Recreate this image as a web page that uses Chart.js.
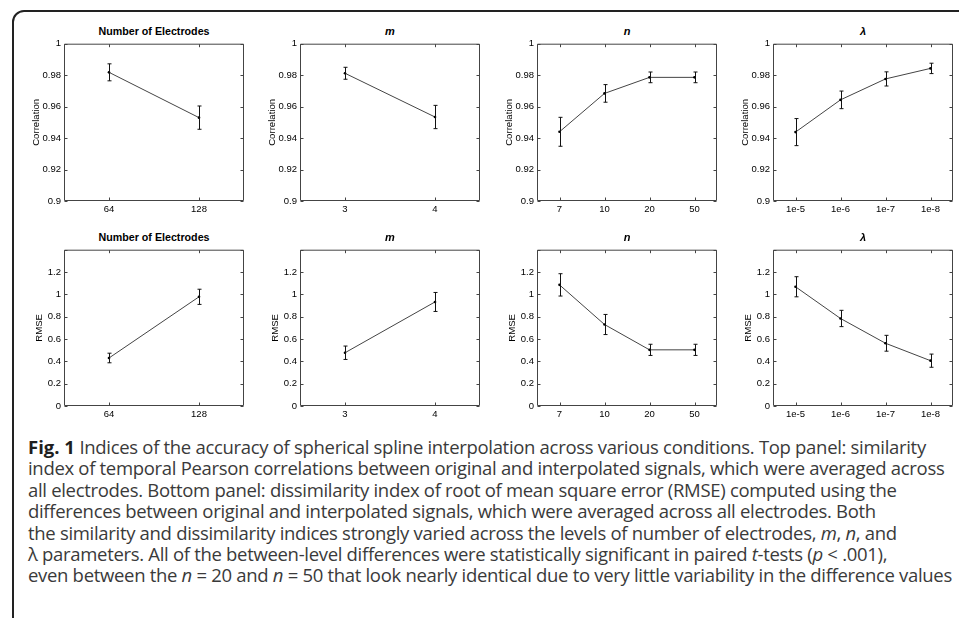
<!DOCTYPE html>
<html>
<head>
<meta charset="utf-8">
<script src="https://cdn.jsdelivr.net/npm/chart.js@4.4.1/dist/chart.umd.min.js"></script>
<style>
  html, body { margin: 0; padding: 0; background: #fff; }
  body { width: 959px; height: 618px; position: relative; overflow: hidden; }
  .frame {
    position: absolute; left: 12px; top: 10px; width: 1000px; height: 700px;
    border: 2px solid #222; border-radius: 12px; box-sizing: border-box;
  }
  canvas { position: absolute; }
  .ptitle {
    position: absolute; width: 180px; text-align: center; height: 14px; line-height: 14px;
    font-family: "Liberation Sans", Arial, sans-serif; font-weight: bold; font-size: 10.7px; color: #000;
  }
  .ptitle.it { font-style: italic; font-size: 11px; }
  .cap {
    position: absolute; left: 28px; height: 22px; line-height: 22px;
    font-family: "Open Sans", sans-serif; font-size: 18.5px;
    letter-spacing: -0.31px; color: #3a3a3a; white-space: nowrap;
  }
  .cap b { color: #1e1e1e; letter-spacing: 0; }
</style>
</head>
<body>
<div class="frame"></div>
<div id="panels"></div>
<div class="cap" style="top:436px"><b>Fig. 1</b> Indices of the accuracy of spherical spline interpolation across various conditions. Top panel: similarity</div>
<div class="cap" style="top:457.4px">index of temporal Pearson correlations between original and interpolated signals, which were averaged across</div>
<div class="cap" style="top:478.7px">all electrodes. Bottom panel: dissimilarity index of root of mean square error (RMSE) computed using the</div>
<div class="cap" style="top:500.1px">differences between original and interpolated signals, which were averaged across all electrodes. Both</div>
<div class="cap" style="top:521.5px">the similarity and dissimilarity indices strongly varied across the levels of number of electrodes, <i>m</i>, <i>n</i>, and</div>
<div class="cap" style="top:542.8px">λ parameters. All of the between-level differences were statistically significant in paired <i>t</i>-tests (<i>p</i> &lt; .001),</div>
<div class="cap" style="top:564.2px">even between the <i>n</i> = 20 and <i>n</i> = 50 that look nearly identical due to very little variability in the difference values</div>
<script>
// categories
const electrodeLevels = ['64', '128'];
const mLevels = ['3', '4'];
const nLevels = ['7', '10', '20', '50'];
const lambdaLevels = ['1e-5', '1e-6', '1e-7', '1e-8'];

// top row: correlation (mean, error bar half length)
const electrodesCorr = [0.9818, 0.9530];
const electrodesCorrErr = [0.0054, 0.0074];
const mCorr = [0.9812, 0.9534];
const mCorrErr = [0.0038, 0.0074];
const nCorr = [0.9440, 0.9684, 0.9786, 0.9786];
const nCorrErr = [0.0092, 0.0056, 0.0034, 0.0034];
const lambdaCorr = [0.9438, 0.9643, 0.9776, 0.9843];
const lambdaCorrErr = [0.0086, 0.0056, 0.0045, 0.0033];

// bottom row: RMSE
const electrodesRmse = [0.430, 0.978];
const electrodesRmseErr = [0.043, 0.068];
const mRmse = [0.477, 0.932];
const mRmseErr = [0.060, 0.085];
const nRmse = [1.085, 0.730, 0.503, 0.503];
const nRmseErr = [0.100, 0.090, 0.050, 0.050];
const lambdaRmse = [1.068, 0.784, 0.562, 0.406];
const lambdaRmseErr = [0.090, 0.073, 0.071, 0.059];

// tick labels
const corrTickValues = [0.9, 0.92, 0.94, 0.96, 0.98, 1];
const corrTickLabels = ['0.9', '0.92', '0.94', '0.96', '0.98', '1'];
const rmseTickValues = [0, 0.2, 0.4, 0.6, 0.8, 1, 1.2, 1.4];
const rmseTickLabels = ['0', '0.2', '0.4', '0.6', '0.8', '1', '1.2', ''];

const titles = ['Number of Electrodes', 'm', 'n', 'λ'];
const levels = [electrodeLevels, mLevels, nLevels, lambdaLevels];

// layout of the plot boxes
const plotLefts = [64, 300, 537, 773];
const plotW = 180;
const rows = [
    { top: 43, h: 158, label: 'Correlation', min: 0.9, max: 1, tv: corrTickValues, tl: corrTickLabels, titlePad: 18.5,
      vals: [electrodesCorr, mCorr, nCorr, lambdaCorr], errs: [electrodesCorrErr, mCorrErr, nCorrErr, lambdaCorrErr] },
    { top: 249, h: 157, label: 'RMSE', min: 0, max: 1.4, tv: rmseTickValues, tl: rmseTickLabels, titlePad: 22,
      vals: [electrodesRmse, mRmse, nRmse, lambdaRmse], errs: [electrodesRmseErr, mRmseErr, nRmseErr, lambdaRmseErr] }
];

const FONT = "'Liberation Sans', Arial, sans-serif";
const Y_W = 52, X_H = 22, PAD_T = 8, PAD_R = 6;

// matlab-ish box: error bars, full frame and inward ticks
const matlabAxes = {
    id: 'matlabAxes',
    afterDatasetsDraw(chart) {
        const { ctx, chartArea: a, scales: { x, y } } = chart;
        const ds = chart.data.datasets[0];
        const pts = chart.getDatasetMeta(0).data;
        ctx.save();
        ctx.lineWidth = 1;
        ctx.strokeStyle = '#111';
        ds.data.forEach((v, i) => {
            const px = Math.round(pts[i].x) + 0.5;
            const t = y.getPixelForValue(v + ds.errors[i]);
            const b = y.getPixelForValue(v - ds.errors[i]);
            ctx.beginPath();
            ctx.moveTo(px, t); ctx.lineTo(px, b);
            ctx.moveTo(px - 2, t); ctx.lineTo(px + 2, t);
            ctx.moveTo(px - 2, b); ctx.lineTo(px + 2, b);
            ctx.stroke();
        });
        ctx.strokeStyle = '#444';
        const L = a.left + 0.5, R = a.right - 0.5, T = a.top + 0.5, B = a.bottom - 0.5;
        ctx.beginPath();
        ctx.rect(L, T, R - L, B - T);
        x.ticks.forEach((t, i) => {
            const px = Math.round(x.getPixelForTick(i)) + 0.5;
            ctx.moveTo(px, B); ctx.lineTo(px, B - 3);
            ctx.moveTo(px, T); ctx.lineTo(px, T + 3);
        });
        y.ticks.forEach((t, i) => {
            const py = Math.round(y.getPixelForTick(i)) + 0.5;
            ctx.moveTo(L, py); ctx.lineTo(L + 3, py);
            ctx.moveTo(R, py); ctx.lineTo(R - 3, py);
        });
        ctx.stroke();
        ctx.restore();
    }
};

const holder = document.getElementById('panels');

rows.forEach((row) => {
    titles.forEach((title, c) => {
        const left = plotLefts[c];

        const tdiv = document.createElement('div');
        tdiv.className = 'ptitle' + (c > 0 ? ' it' : '');
        tdiv.textContent = title;
        tdiv.style.left = left + 'px';
        tdiv.style.top = (row.top - 12 - 7) + 'px';
        holder.appendChild(tdiv);

        const cv = document.createElement('canvas');
        cv.width = Y_W + plotW + PAD_R;
        cv.height = PAD_T + row.h + X_H;
        cv.style.left = (left - Y_W) + 'px';
        cv.style.top = (row.top - PAD_T) + 'px';
        holder.appendChild(cv);

        new Chart(cv.getContext('2d'), {
            type: 'line',
            data: {
                labels: levels[c],
                datasets: [{
                    data: row.vals[c],
                    errors: row.errs[c],
                    borderColor: '#444',
                    borderWidth: 1,
                    tension: 0,
                    pointRadius: 1.3,
                    pointBackgroundColor: '#000',
                    pointBorderWidth: 0
                }]
            },
            options: {
                responsive: false,
                animation: false,
                layout: { padding: { top: PAD_T, right: PAD_R, left: 0, bottom: 0 } },
                plugins: { legend: { display: false }, tooltip: { enabled: false } },
                scales: {
                    x: {
                        type: 'category',
                        offset: true,
                        grid: { display: false, drawTicks: false },
                        border: { display: false },
                        ticks: { padding: 2.3, color: '#000', font: { family: FONT, size: 9.5 }, maxRotation: 0, autoSkip: false },
                        afterFit: (s) => { s.height = X_H; }
                    },
                    y: {
                        min: row.min,
                        max: row.max,
                        grid: { display: false, drawTicks: false },
                        border: { display: false },
                        afterBuildTicks: (s) => { s.ticks = row.tv.map(v => ({ value: v })); },
                        ticks: {
                            padding: 3, color: '#000', font: { family: FONT, size: 9.5 },
                            callback: (v, i) => row.tl[i]
                        },
                        title: {
                            display: true, text: row.label, color: '#000',
                            font: { family: FONT, size: 9.6 },
                            padding: { top: row.titlePad, bottom: 0 }
                        },
                        afterFit: (s) => { s.width = Y_W; }
                    }
                }
            },
            plugins: [matlabAxes]
        });
    });
});
</script>
</body>
</html>
